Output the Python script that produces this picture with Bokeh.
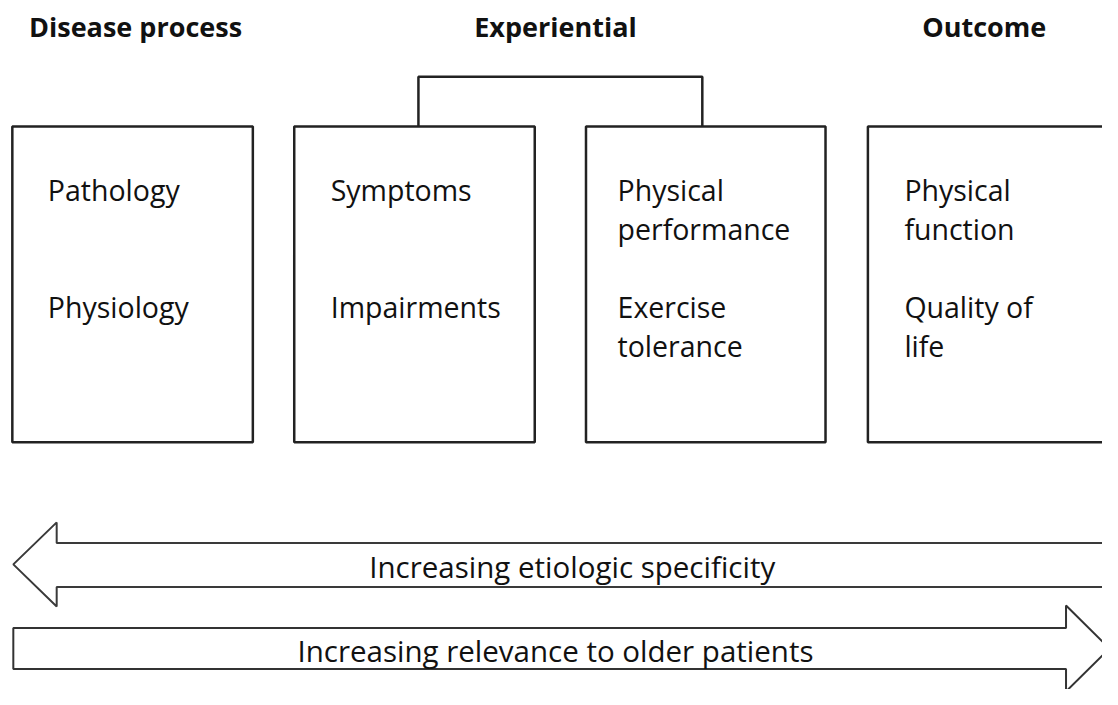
from bokeh.plotting import figure
from bokeh.models import Range1d
from bokeh.core.properties import value
from bokeh.embed import file_html
from bokeh.resources import INLINE

# ---- content ----
headers = ["Disease process", "Experiential", "Outcome"]
header_x = [137, 563, 998]
header_baseline = 38

box_left = [12, 298, 594, 880]
box_right = [256, 542, 837, 1140]
box_top = 129
box_bottom = 452

box_lines = [
    ["Pathology", "", "", "Physiology"],
    ["Symptoms", "", "", "Impairments"],
    ["Physical", "performance", "", "Exercise", "tolerance"],
    ["Physical", "function", "", "Quality of", "life"],
]
text_x = [48, 335, 626, 917]
line_baselines = [205, 245, 285, 325, 365]

arrow_labels = ["Increasing etiologic specificity", "Increasing relevance to older patients"]
arrow_label_x = [580, 563]
arrow_label_y = [591, 677]

FONT = "Open Sans"
W, H = 1102, 689
RW, RH = 1118, 705  # reference extent
BASE_SHIFT = 11.5   # correction for svg alphabetic baseline placement

p = figure(width=W, height=H, output_backend="svg", toolbar_location=None,
           x_range=Range1d(0, RW), y_range=Range1d(RH, 0),
           min_border=0)
p.axis.visible = False
p.grid.visible = False
p.outline_line_color = None
p.background_fill_color = "white"

# headers
p.text(x=header_x, y=[header_baseline - BASE_SHIFT] * 3, text=headers, text_align="center",
       text_baseline="alphabetic",
       text_font=value(FONT), text_font_style="bold", text_font_size="27px", text_color="#111111")

# bracket
p.line(x=[424, 424, 712, 712], y=[129, 78, 78, 129], line_color="#222222", line_width=2.5)

# boxes
p.quad(left=box_left, right=box_right, top=[box_top] * 4, bottom=[box_bottom] * 4,
       fill_color="white", line_color="#222222", line_width=2.5)

# box texts
xs, ys, ts = [], [], []
for bx, lines in zip(text_x, box_lines):
    for ln, y in zip(lines, line_baselines):
        if ln:
            xs.append(bx); ys.append(y - BASE_SHIFT); ts.append(ln)
p.text(x=xs, y=ys, text=ts, text_align="left", text_baseline="alphabetic",
       text_font=value(FONT), text_font_size="28.5px", text_color="#111111")

# left arrow
p.patch(x=[13, 57, 57, 1140, 1140, 57, 57], y=[577, 534, 555, 555, 600, 600, 620],
        fill_color="white", line_color="#3a3a3a", line_width=2)
# right arrow
p.patch(x=[13, 1081, 1081, 1125, 1081, 1081, 13], y=[642, 642, 619, 663, 707, 684, 684],
        fill_color="white", line_color="#333333", line_width=2)

p.text(x=arrow_label_x, y=[v - BASE_SHIFT for v in arrow_label_y], text=arrow_labels,
       text_align="center", text_baseline="alphabetic",
       text_font=value(FONT), text_font_size="29.5px", text_color="#111111")

open("out.html", "w").write(file_html(p, INLINE))
